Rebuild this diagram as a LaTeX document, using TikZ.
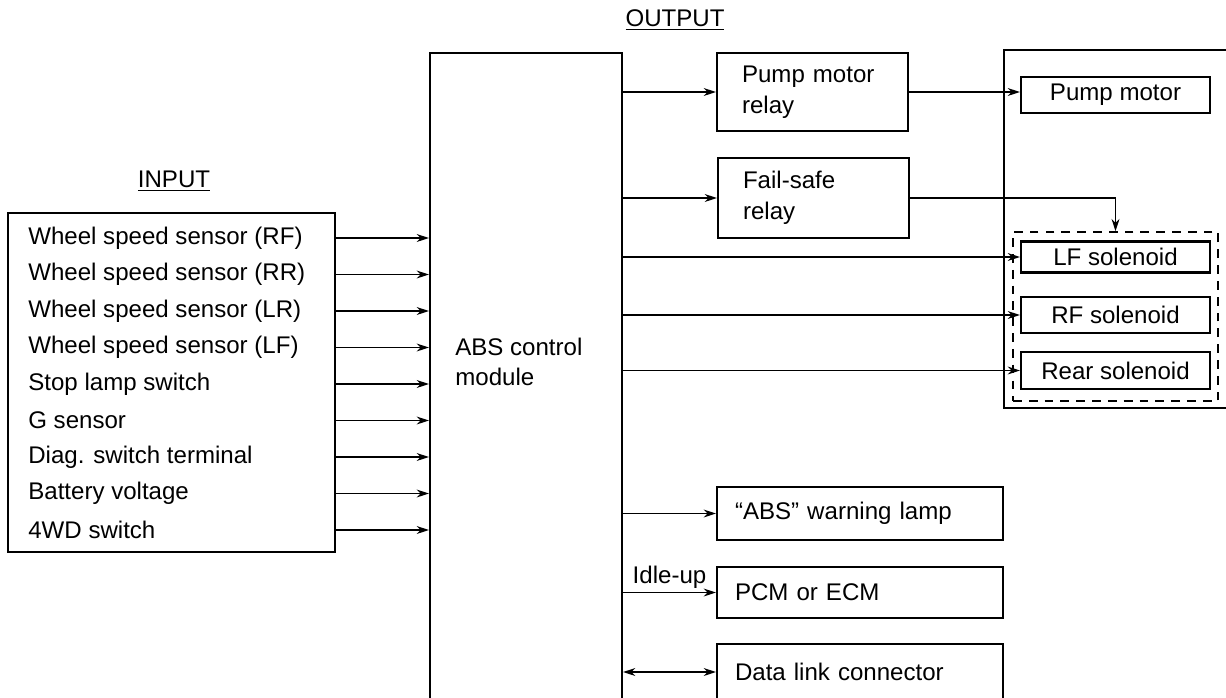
\documentclass[tikz,border=0pt]{standalone}
\usepackage{fontspec}
\setmainfont{Liberation Sans}
\usepackage{tikz}
\usetikzlibrary{positioning, arrows.meta, calc}

\begin{document}
\begin{tikzpicture}[
  x=0.02cm, y=-0.02cm,
  every node/.style={font=\fontsize{13.7}{17.5}\selectfont},
  blk/.style={draw, line width=1.2pt, inner sep=0pt},
  lbox/.style={blk, align=left, inner xsep=0.5cm, text width=2.82cm},
  cbox/.style={blk, align=center, minimum width=3.78cm},
  wide/.style={blk, align=left, inner xsep=0.36cm, text width=5.0cm},
  txt/.style={anchor=west, inner sep=0pt},
  sig/.style={-{Stealth[length=7pt, width=4.5pt]}, line width=0.9pt},
  bisig/.style={{Stealth[length=7pt, width=4.5pt]}-{Stealth[length=7pt, width=4.5pt]}, line width=0.9pt}
]
  \useasboundingbox (0,0) rectangle (1226,697);

  % input side
  \node[txt, anchor=center] (intitle) at (174,181) {\underline{INPUT}};
  \node[blk, minimum width=6.54cm, minimum height=6.78cm] (inbox) at (171.5,382.5) {};
  \node[txt] (in1) at (28,238) {Wheel speed sensor (RF)};
  \node[txt] (in2) at (28,274.5) {Wheel speed sensor (RR)};
  \node[txt] (in3) at (28,311) {Wheel speed sensor (LR)};
  \node[txt] (in4) at (28,347.5) {Wheel speed sensor (LF)};
  \node[txt] (in5) at (28,384) {Stop lamp switch};
  \node[txt] (in6) at (28,420.5) {G sensor};
  \node[txt] (in7) at (28,457) {Diag. switch terminal};
  \node[txt] (in8) at (28,493.5) {Battery voltage};
  \node[txt] (in9) at (28,530) {4WD switch};

  % control module (runs off the bottom)
  \node[blk, minimum width=3.84cm, minimum height=13.34cm] (abs) at (526,386.5) {};
  \node[txt, align=left] (abstxt) at (455,362) {ABS control\\module};

  \foreach \i in {1,...,9}
    \draw[sig] (inbox.east |- in\i) -- (abs.west |- in\i);

  % output side
  \node[txt, anchor=center] (outtitle) at (675,20) {\underline{OUTPUT}};
  \node[lbox, minimum height=1.56cm] (pmr) at (812.5,92) {Pump motor\\relay};
  \node[lbox, minimum height=1.6cm] (fsr) at (813.5,198) {Fail-safe\\relay};

  \node[blk, minimum width=4.92cm, minimum height=7.16cm] (unit) at (1127,229) {};
  \node[cbox, minimum height=0.72cm] (pm) at (1115.5,95) {Pump motor};
  \node[blk, dashed, line width=0.9pt, dash pattern=on 5pt off 4pt, minimum width=4.1cm, minimum height=3.38cm] (grp) at (1115.5,316.5) {};
  \node[cbox, minimum height=0.62cm] (lf) at (1115.5,257) {LF solenoid};
  \node[cbox, minimum height=0.72cm] (rf) at (1115.5,315) {RF solenoid};
  \node[cbox, minimum height=0.74cm] (rear) at (1115.5,370.5) {Rear solenoid};

  \node[wide, minimum height=1.06cm] (wl) at (860,513.5) {``ABS'' warning lamp};
  \node[wide, minimum height=1.02cm] (pcm) at (860,592.5) {PCM or ECM};
  \node[wide, minimum height=1.12cm] (dlc) at (860,672) {Data link connector};

  \draw[sig] (abs.east |- pmr.west) -- (pmr.west);
  \draw[sig] (abs.east |- fsr.west) -- (fsr.west);
  \draw[sig] (pmr.east) -- (pmr.east -| pm.west);
  \draw[sig] (fsr.east) -| (grp.north);
  \draw[sig] (abs.east |- lf.west) -- (lf.west);
  \draw[sig] (abs.east |- rf.west) -- (rf.west);
  \draw[sig] (abs.east |- rear.west) -- (rear.west);
  \draw[sig] (abs.east |- wl.west) -- (wl.west);
  \draw[sig] (abs.east |- pcm.west) -- node[above, inner sep=2pt] (idle) {Idle-up} (pcm.west);
  \draw[bisig] (abs.east |- dlc.west) -- (dlc.west);
\end{tikzpicture}
\end{document}
